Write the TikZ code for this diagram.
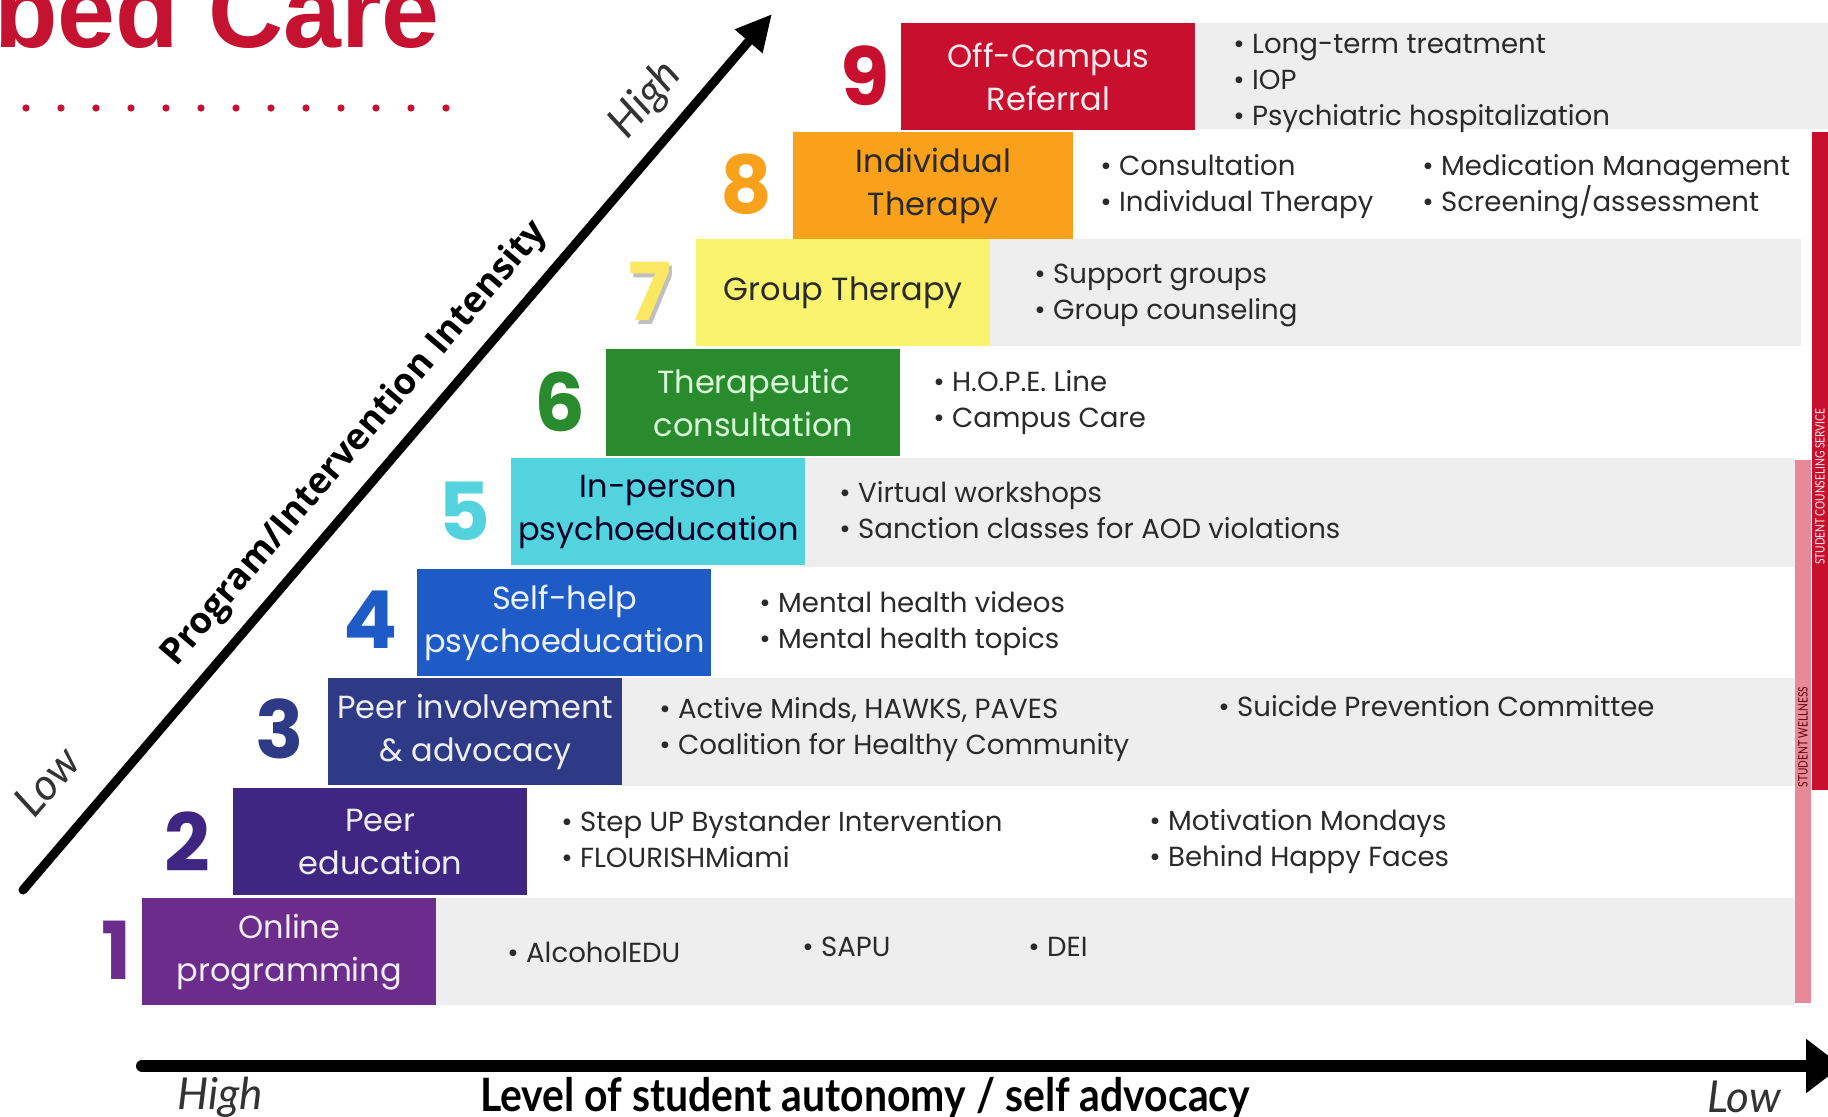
\documentclass[tikz,border=0pt]{standalone}
\usepackage{fontspec}
\setmainfont{Poppins}
\newfontfamily\headfont{Liberation Sans}
\newfontfamily\condfont[FakeStretch=0.89]{Lato}
\newfontfamily\smallcond[FakeStretch=0.78]{Lato}
\newfontfamily\axisfont{Lato}
\newfontfamily\diagfont{Open Sans}
\usetikzlibrary{arrows.meta}
\definecolor{cA}{HTML}{6B2C8B}
\definecolor{cB}{HTML}{3F2682}
\definecolor{cC}{HTML}{2E3A86}
\definecolor{cD}{HTML}{1E5BC6}
\definecolor{cE}{HTML}{52D3DD}
\definecolor{cF}{HTML}{2A8A2E}
\definecolor{cG}{HTML}{F9F36E}
\definecolor{cH}{HTML}{F9A11B}
\definecolor{cI}{HTML}{C8102E}
\definecolor{titlered}{HTML}{C41230}
\definecolor{bandgray}{HTML}{EEEEEE}
\definecolor{txtdark}{HTML}{2A2A2A}
\definecolor{wellpink}{HTML}{E8899A}
\tikzset{
  x=0.5pt, y=0.5pt,
  stepbox/.style={anchor=north west, minimum width=147pt, minimum height=53.5pt, inner sep=0pt, align=center, font=\fontsize{16}{21.5}\selectfont},
  numlbl/.style={font=\fontsize{40}{40}\selectfont\bfseries},
  itemlist/.style={anchor=west, align=left, inner sep=0pt, text=txtdark, font=\fontsize{13.8}{18}\selectfont},
  band/.style={fill=bandgray},
  axislbl/.style={font=\axisfont\itshape\fontsize{22}{22}\selectfont, text=black!80},
}
\begin{document}
\begin{tikzpicture}
\useasboundingbox (0,0) rectangle (1828,-1116);
\clip (0,0) rectangle (1828,-1116);
\fill[white] (0,0) rectangle (1828,-1116);
% title
\node[anchor=base west, inner sep=0pt, text=titlered, font=\headfont\bfseries\fontsize{52}{52}\selectfont] (title) at (-6,-47) {bed Care};
\foreach \i in {0,...,12} {\fill[titlered] (26+35*\i,-108) circle[radius=1.8pt];}
% bands
\fill[band] (1196,-23) rectangle (1828,-129);
\fill[band] (990,-239) rectangle (1801,-346);
\fill[band] (803,-458) rectangle (1795,-567);
\fill[band] (621,-678) rectangle (1795,-786);
\fill[band] (436,-898) rectangle (1795,-1005);
% right bars
\fill[cI] (1812,-132) rectangle (1830,-790);
\fill[wellpink] (1795,-460) rectangle (1811,-1003);
\node[rotate=90, inner sep=0pt, text=white!80!pink, font=\smallcond\fontsize{6.5}{6.5}\selectfont] (scs) at (1820,-487) {STUDENT COUNSELING SERVICE};
\node[rotate=90, inner sep=0pt, text=black!65!red, font=\smallcond\fontsize{6.5}{6.5}\selectfont] (sw) at (1803,-737) {STUDENT WELLNESS};
% boxes
\node[stepbox, fill=cA, text=white!92!cA] (b1) at (142,-898) {Online\\programming};
\node[stepbox, fill=cB, text=white!92!cB] (b2) at (233,-788) {Peer\\education};
\node[stepbox, fill=cC, text=white!92!cC] (b3) at (328,-678) {Peer involvement\\\& advocacy};
\node[stepbox, fill=cD, text=white!92!cD] (b4) at (417,-569) {Self-help\\psychoeducation};
\node[stepbox, fill=cE, text=black!85!blue] (b5) at (511,-458) {In-person\\psychoeducation};
\node[stepbox, fill=cF, text=white!85!green] (b6) at (606,-349) {Therapeutic\\consultation};
\node[stepbox, fill=cG, text=txtdark] (b7) at (696,-239) {Group Therapy};
\node[stepbox, fill=cH, text=txtdark, minimum width=140pt] (b8) at (793,-132) {Individual\\Therapy};
\node[stepbox, fill=cI, text=white!92!cI] (b9) at (901,-23) {Off-Campus\\Referral};
% numbers
\node[numlbl, text=cA] (n1) at (117,-950) {1};
\node[numlbl, text=cB] (n2) at (187,-842) {2};
\node[numlbl, text=cC] (n3) at (280,-729) {3};
\node[numlbl, text=cD] (n4) at (371,-620) {4};
\node[numlbl, text=cE] (n5) at (464,-511) {5};
\node[numlbl, text=cF] (n6) at (560,-402) {6};
\node[numlbl, text=black!25] (n7s) at (653,-295) {7};
\node[numlbl, text=cG!90!orange] (n7) at (650,-291) {7};
\node[numlbl, text=cH] (n8) at (746,-184) {8};
\node[numlbl, text=cI] (n9) at (865,-76) {9};
% item lists
\node[itemlist] (i9) at (1233,-83) {• Long-term treatment\\• IOP\\• Psychiatric hospitalization};
\node[itemlist] (i8a) at (1100,-187) {• Consultation\\• Individual Therapy};
\node[itemlist] (i8b) at (1422,-187) {• Medication Management\\• Screening/assessment};
\node[itemlist] (i7) at (1034,-295) {• Support groups\\• Group counseling};
\node[itemlist] (i6) at (933,-403) {• H.O.P.E. Line\\• Campus Care};
\node[itemlist] (i5) at (839,-510) {• Virtual workshops\\• Sanction classes for AOD violations};
\node[itemlist] (i4) at (759,-624) {• Mental health videos\\• Mental health topics};
\node[itemlist] (i3a) at (659,-730) {• Active Minds, HAWKS, PAVES\\• Coalition for Healthy Community};
\node[itemlist] (i3b) at (1218,-706) {• Suicide Prevention Committee};
\node[itemlist] (i2a) at (561,-839) {• Step UP Bystander Intervention\\• FLOURISHMiami};
\node[itemlist] (i2b) at (1149,-842) {• Motivation Mondays\\• Behind Happy Faces};
\node[itemlist] (i1a) at (507,-952) {• AlcoholEDU};
\node[itemlist] (i1b) at (802,-947) {• SAPU};
\node[itemlist] (i1c) at (1028,-947) {• DEI};
% diagonal axis
\coordinate (da) at (23,-890);
\coordinate (db) at (772,-14);
\draw[line width=4.5pt, line cap=round, -{Triangle[length=18pt,width=17pt]}] (da) -- (db);
\node[rotate=49.5, font=\diagfont\bfseries\fontsize{18.2}{18.2}\selectfont] (dlbl) at (355,-444) {Program/Intervention Intensity};
\node[rotate=49.5, axislbl] (dhigh) at (646,-100) {High};
\node[rotate=49.5, axislbl] (dlow) at (47,-781) {Low};
% horizontal axis
\coordinate (ha) at (142,-1066);
\coordinate (hb) at (1842,-1066);
\draw[line width=6pt, line cap=round, -{Triangle[length=18pt,width=26pt]}] (ha) -- (hb);
\node[axislbl] (hhigh) at (220,-1097) {High};
\node[axislbl] (hlow) at (1744,-1097) {Low};
\node[font=\condfont\bfseries\fontsize{23}{23}\selectfont] (hlbl) at (865,-1098) {Level of student autonomy / self advocacy};
\end{tikzpicture}
\end{document}
